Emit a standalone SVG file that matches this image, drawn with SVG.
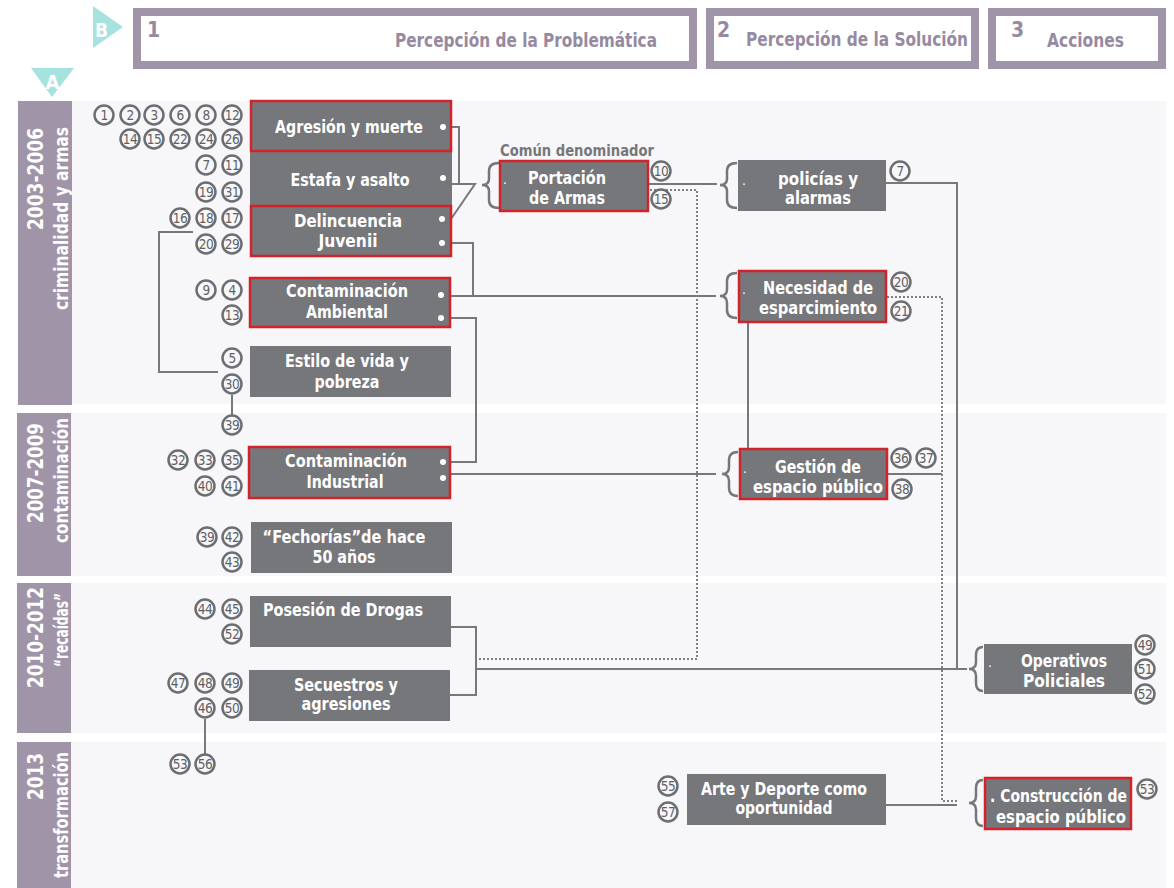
<svg xmlns="http://www.w3.org/2000/svg" width="1174" height="888" viewBox="0 0 1174 888">
<defs>
<style>
.f{font-family:"Liberation Sans Narrow","DejaVu Sans Condensed","Liberation Sans",sans-serif;font-weight:bold}
.band{fill:#f7f7f9}
.lab{fill:#a094a9}
.lt{fill:#ffffff;font-family:"Liberation Sans Narrow","DejaVu Sans Condensed","Liberation Sans",sans-serif;font-weight:bold}
.hb{fill:#ffffff;stroke:#a094a9;stroke-width:8}
.ht{fill:#968aa0;font-family:"Liberation Sans Narrow","DejaVu Sans Condensed","Liberation Sans",sans-serif;font-weight:bold}
.box{fill:#76777b}
.red{fill:#76777b;stroke:#d2232a;stroke-width:2.5}
.nt{fill:#ffffff;font-family:"Liberation Sans Narrow","DejaVu Sans Condensed","Liberation Sans",sans-serif;font-weight:bold;font-size:18px;text-anchor:middle}
.pd{fill:#ffffff;font-family:"Liberation Sans",sans-serif;font-size:14px}
.dot{fill:#ffffff}
.br{fill:none;stroke:#76777b;stroke-width:2.5}
.c circle{fill:#f7f7f9;stroke:#6d6e72;stroke-width:2.5}
.c text{fill:#5f6064;font-family:"Liberation Sans Narrow","DejaVu Sans Condensed","Liberation Sans",sans-serif;font-size:13.5px;text-anchor:middle;letter-spacing:-0.6px}
.ln{fill:none;stroke:#77787c;stroke-width:2}
.dt{fill:none;stroke:#7f8084;stroke-width:2;stroke-dasharray:2 2}
</style>
</defs>
<rect width="1174" height="888" fill="#ffffff"/>

<!-- bands -->
<g id="bands">
<rect class="band" x="72" y="101" width="1094" height="303"/>
<rect class="lab" x="18" y="101" width="54" height="304"/>
<rect class="band" x="71" y="413" width="1095" height="163"/>
<rect class="lab" x="17" y="413" width="54" height="163"/>
<rect class="band" x="71" y="583" width="1095" height="150"/>
<rect class="lab" x="17" y="583" width="54" height="150"/>
<rect class="band" x="71" y="742" width="1095" height="146"/>
<rect class="lab" x="17" y="742" width="54" height="146"/>
<text class="lt" font-size="22" text-anchor="end" textLength="102" lengthAdjust="spacingAndGlyphs" transform="translate(43,128) rotate(-90)">2003-2006</text>
<text class="lt" font-size="19" text-anchor="end" textLength="183" lengthAdjust="spacingAndGlyphs" transform="translate(68,127) rotate(-90)">criminalidad  y armas</text>
<text class="lt" font-size="22" text-anchor="end" textLength="100" lengthAdjust="spacingAndGlyphs" transform="translate(43,423) rotate(-90)">2007-2009</text>
<text class="lt" font-size="19" text-anchor="end" textLength="125" lengthAdjust="spacingAndGlyphs" transform="translate(68,418) rotate(-90)">contaminación</text>
<text class="lt" font-size="22" text-anchor="end" textLength="101" lengthAdjust="spacingAndGlyphs" transform="translate(43,587) rotate(-90)">2010-2012</text>
<text class="lt" font-size="19" text-anchor="end" textLength="74" lengthAdjust="spacingAndGlyphs" transform="translate(68,593) rotate(-90)">“recaídas”</text>
<text class="lt" font-size="22" text-anchor="end" textLength="47" lengthAdjust="spacingAndGlyphs" transform="translate(43,753) rotate(-90)">2013</text>
<text class="lt" font-size="19" text-anchor="end" textLength="126" lengthAdjust="spacingAndGlyphs" transform="translate(68,752) rotate(-90)">transformación</text>
</g>

<!-- header -->
<g id="header">
<polygon points="93,6 123,27 93,48" fill="#a6e2e0"/>
<text class="lt" x="101.5" y="37" font-size="19" text-anchor="middle">B</text>
<polygon points="31,68 74,68 52,97" fill="#a6e2e0"/>
<text class="lt" x="52.5" y="89" font-size="20" text-anchor="middle">A</text>
<rect class="hb" x="137" y="12" width="556" height="53"/>
<rect class="hb" x="710" y="12" width="265" height="53"/>
<rect class="hb" x="992" y="12" width="170" height="53"/>
<text class="ht" x="147" y="37" font-size="21">1</text>
<text class="ht" x="395" y="47" font-size="19" textLength="262" lengthAdjust="spacingAndGlyphs">Percepción de la Problemática</text>
<text class="ht" x="717" y="37" font-size="21">2</text>
<text class="ht" x="746" y="46" font-size="19" textLength="222" lengthAdjust="spacingAndGlyphs">Percepción de la Solución</text>
<text class="ht" x="1011" y="37" font-size="21">3</text>
<text class="ht" x="1047" y="47" font-size="19" textLength="77" lengthAdjust="spacingAndGlyphs">Acciones</text>
</g>

<!-- connectors -->
<g id="connectors">
<path class="ln" d="M452,127 H459 V184"/>
<path class="ln" d="M452,184 H475 L451,219"/>
<path class="ln" d="M452,243 H473 V296"/>
<path class="ln" d="M451,296 H716"/>
<path class="ln" d="M451,318 H476 V462 H451"/>
<path class="ln" d="M649,184 H717"/>
<path class="ln" d="M451,474 H716"/>
<path class="ln" d="M886,183 H957 V669"/>
<path class="ln" d="M451,627 H476 V695 H450"/>
<path class="ln" d="M476,669 H967"/>
<path class="ln" d="M748,323 V448"/>
<path class="ln" d="M888,474 H942"/>
<path class="ln" d="M886,805 H957"/>
<path class="ln" d="M193,232 H159 V372 H218"/>
<path class="ln" d="M232,395 V415"/>
<path class="ln" d="M205,719 V754"/>
<path class="dt" d="M650,190 H697 V659 H477"/>
<path class="dt" d="M887,297 H942 V801 H957"/>
</g>

<!-- problem nodes -->
<g id="n-estafa">
<rect class="box" x="250" y="152" width="202" height="53"/>
<text class="nt" x="350" y="186" textLength="119" lengthAdjust="spacingAndGlyphs">Estafa y asalto</text>
<circle class="dot" cx="443" cy="178" r="3"/>
</g>
<g id="n-agresion">
<rect class="red" x="251" y="101" width="200" height="50"/>
<text class="nt" x="349" y="133" textLength="148" lengthAdjust="spacingAndGlyphs">Agresión y muerte</text>
<circle class="dot" cx="443" cy="127" r="3"/>
</g>
<g id="n-delincuencia">
<rect class="red" x="251" y="206" width="200" height="50"/>
<text class="nt" x="348" y="227" textLength="108" lengthAdjust="spacingAndGlyphs">Delincuencia</text>
<text class="nt" x="348" y="247" textLength="59" lengthAdjust="spacingAndGlyphs">Juvenii</text>
<circle class="dot" cx="442" cy="219" r="3"/>
<circle class="dot" cx="442" cy="243" r="3"/>
</g>
<g id="n-ambiental">
<rect class="red" x="250" y="278" width="200" height="49"/>
<text class="nt" x="347" y="297" textLength="122" lengthAdjust="spacingAndGlyphs">Contaminación</text>
<text class="nt" x="347" y="318" textLength="82" lengthAdjust="spacingAndGlyphs">Ambiental</text>
<circle class="dot" cx="441" cy="295" r="3"/>
<circle class="dot" cx="441" cy="318" r="3"/>
</g>
<g id="n-estilo">
<rect class="box" x="250" y="346" width="201" height="51"/>
<text class="nt" x="347" y="367" textLength="124" lengthAdjust="spacingAndGlyphs">Estilo de vida y</text>
<text class="nt" x="347" y="388" textLength="65" lengthAdjust="spacingAndGlyphs">pobreza</text>
</g>
<g id="n-industrial">
<rect class="red" x="249" y="447" width="201" height="51"/>
<text class="nt" x="346" y="467" textLength="122" lengthAdjust="spacingAndGlyphs">Contaminación</text>
<text class="nt" x="345" y="488" textLength="77" lengthAdjust="spacingAndGlyphs">Industrial</text>
<circle class="dot" cx="443" cy="462" r="3"/>
<circle class="dot" cx="443" cy="478" r="3"/>
</g>
<g id="n-fechorias">
<rect class="box" x="251" y="522" width="201" height="51"/>
<text class="nt" x="344" y="543" textLength="163" lengthAdjust="spacingAndGlyphs">“Fechorías”de hace</text>
<text class="nt" x="344" y="563" textLength="63" lengthAdjust="spacingAndGlyphs">50 años</text>
</g>
<g id="n-drogas">
<rect class="box" x="250" y="596" width="201" height="51"/>
<text class="nt" x="343" y="616" textLength="160" lengthAdjust="spacingAndGlyphs">Posesión de Drogas</text>
</g>
<g id="n-secuestros">
<rect class="box" x="249" y="670" width="201" height="51"/>
<text class="nt" x="346" y="691" textLength="104" lengthAdjust="spacingAndGlyphs">Secuestros y</text>
<text class="nt" x="346" y="710" textLength="89" lengthAdjust="spacingAndGlyphs">agresiones</text>
</g>

<!-- solution nodes -->
<g id="n-portacion">
<text class="f" x="500" y="156" font-size="16" fill="#76777b" textLength="154" lengthAdjust="spacingAndGlyphs">Común denominador</text>
<path class="br" d="M499,163 Q489,163 489,171 V179 Q489,185 482,185 Q489,185 489,191 V200 Q489,208 499,208"/>
<rect class="red" x="500" y="161" width="148" height="50"/>
<text class="pd" x="503" y="184">.</text>
<text class="nt" x="567" y="184" textLength="78" lengthAdjust="spacingAndGlyphs">Portación</text>
<text class="nt" x="567" y="204" textLength="76" lengthAdjust="spacingAndGlyphs">de Armas</text>
</g>
<g id="n-policias">
<path class="br" d="M737,163 Q727,163 727,171 V179 Q727,185 720,185 Q727,185 727,191 V200 Q727,208 737,208"/>
<rect class="box" x="738" y="160" width="148" height="51"/>
<text class="pd" x="742" y="185">.</text>
<text class="nt" x="818" y="185" textLength="80" lengthAdjust="spacingAndGlyphs">policías y</text>
<text class="nt" x="818" y="204" textLength="66" lengthAdjust="spacingAndGlyphs">alarmas</text>
</g>
<g id="n-necesidad">
<path class="br" d="M737,273 Q727,273 727,281 V289 Q727,296 720,296 Q727,296 727,303 V310 Q727,318 737,318"/>
<rect class="red" x="739" y="271" width="147" height="51"/>
<text class="pd" x="742" y="294">.</text>
<text class="nt" x="818" y="294" textLength="110" lengthAdjust="spacingAndGlyphs">Necesidad de</text>
<text class="nt" x="818" y="314" textLength="118" lengthAdjust="spacingAndGlyphs">esparcimiento</text>
</g>
<g id="n-gestion">
<path class="br" d="M738,452 Q729,452 729,460 V467 Q729,474 722,474 Q729,474 729,481 V488 Q729,496 738,496"/>
<rect class="red" x="740" y="449" width="147" height="50"/>
<text class="pd" x="743" y="473">.</text>
<text class="nt" x="818" y="473" textLength="86" lengthAdjust="spacingAndGlyphs">Gestión de</text>
<text class="nt" x="818" y="493" font-size="17" textLength="130" lengthAdjust="spacingAndGlyphs">espacio público</text>
</g>
<g id="n-arte">
<rect class="box" x="687" y="774" width="199" height="51"/>
<text class="nt" x="784" y="795" textLength="166" lengthAdjust="spacingAndGlyphs">Arte y Deporte como</text>
<text class="nt" x="784" y="814" textLength="97" lengthAdjust="spacingAndGlyphs">oportunidad</text>
</g>

<!-- action nodes -->
<g id="n-operativos">
<path class="br" d="M983,647 Q976,647 976,655 V662 Q976,669 969,669 Q976,669 976,676 V683 Q976,691 983,691"/>
<rect class="box" x="984" y="644" width="148" height="50"/>
<text class="pd" x="988" y="667">.</text>
<text class="nt" x="1064" y="667" textLength="86" lengthAdjust="spacingAndGlyphs">Operativos</text>
<text class="nt" x="1064" y="687" textLength="82" lengthAdjust="spacingAndGlyphs">Policiales</text>
</g>
<g id="n-construccion">
<path class="br" d="M983,780 Q976,780 976,788 V796 Q976,803 969,803 Q976,803 976,810 V818 Q976,826 983,826"/>
<rect class="red" x="985" y="778" width="146" height="51"/>
<text class="nt" x="1127" y="802" font-size="17" text-anchor="end" style="text-anchor:end" textLength="137" lengthAdjust="spacingAndGlyphs">. Construcción de</text>
<text class="nt" x="1061" y="823" textLength="130" lengthAdjust="spacingAndGlyphs">espacio público</text>
</g>

<!-- reference circles -->
<g id="refs" class="c">
<circle cx="104" cy="115" r="9.5"/><text x="104" y="119.5">1</text>
<circle cx="130" cy="115" r="9.5"/><text x="130" y="119.5">2</text>
<circle cx="154" cy="115" r="9.5"/><text x="154" y="119.5">3</text>
<circle cx="180" cy="115" r="9.5"/><text x="180" y="119.5">6</text>
<circle cx="206" cy="115" r="9.5"/><text x="206" y="119.5">8</text>
<circle cx="232" cy="115" r="9.5"/><text x="232" y="119.5">12</text>
<circle cx="130" cy="139" r="9.5"/><text x="130" y="143.5">14</text>
<circle cx="154" cy="139" r="9.5"/><text x="154" y="143.5">15</text>
<circle cx="180" cy="139" r="9.5"/><text x="180" y="143.5">22</text>
<circle cx="206" cy="139" r="9.5"/><text x="206" y="143.5">24</text>
<circle cx="232" cy="139" r="9.5"/><text x="232" y="143.5">26</text>
<circle cx="206" cy="165" r="9.5"/><text x="206" y="169.5">7</text>
<circle cx="232" cy="165" r="9.5"/><text x="232" y="169.5">11</text>
<circle cx="206" cy="192" r="9.5"/><text x="206" y="196.5">19</text>
<circle cx="232" cy="192" r="9.5"/><text x="232" y="196.5">31</text>
<circle cx="180" cy="218" r="9.5"/><text x="180" y="222.5">16</text>
<circle cx="206" cy="218" r="9.5"/><text x="206" y="222.5">18</text>
<circle cx="232" cy="218" r="9.5"/><text x="232" y="222.5">17</text>
<circle cx="206" cy="244" r="9.5"/><text x="206" y="248.5">20</text>
<circle cx="232" cy="244" r="9.5"/><text x="232" y="248.5">29</text>
<circle cx="206" cy="290" r="9.5"/><text x="206" y="294.5">9</text>
<circle cx="232" cy="290" r="9.5"/><text x="232" y="294.5">4</text>
<circle cx="232" cy="315" r="9.5"/><text x="232" y="319.5">13</text>
<circle cx="232" cy="358" r="9.5"/><text x="232" y="362.5">5</text>
<circle cx="232" cy="384" r="9.5"/><text x="232" y="388.5">30</text>
<circle cx="232" cy="425" r="9.5"/><text x="232" y="429.5">39</text>
<circle cx="178" cy="460" r="9.5"/><text x="178" y="464.5">32</text>
<circle cx="205" cy="460" r="9.5"/><text x="205" y="464.5">33</text>
<circle cx="232" cy="460" r="9.5"/><text x="232" y="464.5">35</text>
<circle cx="205" cy="486" r="9.5"/><text x="205" y="490.5">40</text>
<circle cx="232" cy="486" r="9.5"/><text x="232" y="490.5">41</text>
<circle cx="207" cy="537" r="9.5"/><text x="207" y="541.5">39</text>
<circle cx="232" cy="537" r="9.5"/><text x="232" y="541.5">42</text>
<circle cx="232" cy="562" r="9.5"/><text x="232" y="566.5">43</text>
<circle cx="205" cy="609" r="9.5"/><text x="205" y="613.5">44</text>
<circle cx="232" cy="609" r="9.5"/><text x="232" y="613.5">45</text>
<circle cx="232" cy="634" r="9.5"/><text x="232" y="638.5">52</text>
<circle cx="178" cy="683" r="9.5"/><text x="178" y="687.5">47</text>
<circle cx="205" cy="683" r="9.5"/><text x="205" y="687.5">48</text>
<circle cx="232" cy="683" r="9.5"/><text x="232" y="687.5">49</text>
<circle cx="205" cy="708" r="9.5"/><text x="205" y="712.5">46</text>
<circle cx="232" cy="708" r="9.5"/><text x="232" y="712.5">50</text>
<circle cx="180" cy="764" r="9.5"/><text x="180" y="768.5">53</text>
<circle cx="205" cy="764" r="9.5"/><text x="205" y="768.5">56</text>
<circle cx="661" cy="171" r="9.5"/><text x="661" y="175.5">10</text>
<circle cx="661" cy="199" r="9.5"/><text x="661" y="203.5">15</text>
<circle cx="900" cy="171" r="9.5"/><text x="900" y="175.5">7</text>
<circle cx="901" cy="282" r="9.5"/><text x="901" y="286.5">20</text>
<circle cx="901" cy="311" r="9.5"/><text x="901" y="315.5">21</text>
<circle cx="901" cy="458" r="9.5"/><text x="901" y="462.5">36</text>
<circle cx="926" cy="458" r="9.5"/><text x="926" y="462.5">37</text>
<circle cx="902" cy="489" r="9.5"/><text x="902" y="493.5">38</text>
<circle cx="1145" cy="645" r="9.5"/><text x="1145" y="649.5">49</text>
<circle cx="1145" cy="669" r="9.5"/><text x="1145" y="673.5">51</text>
<circle cx="1145" cy="694" r="9.5"/><text x="1145" y="698.5">52</text>
<circle cx="1147" cy="789" r="9.5"/><text x="1147" y="793.5">53</text>
<circle cx="668" cy="786" r="9.5"/><text x="668" y="790.5">55</text>
<circle cx="668" cy="812" r="9.5"/><text x="668" y="816.5">57</text>
</g>
</svg>
